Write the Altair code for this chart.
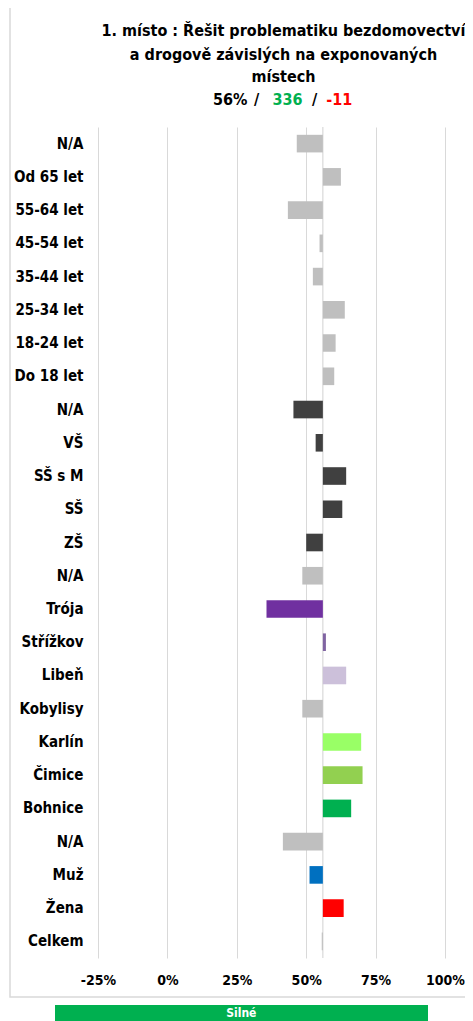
import altair as alt
import pandas as pd

labels = ["N/A", "Od 65 let", "55-64 let", "45-54 let", "35-44 let", "25-34 let",
          "18-24 let", "Do 18 let", "N/A", "VŠ", "SŠ s M", "SŠ", "ZŠ", "N/A",
          "Trója", "Střížkov", "Libeň", "Kobylisy", "Karlín", "Čimice", "Bohnice",
          "N/A", "Muž", "Žena", "Celkem"]
values = [46.6, 62.5, 43.4, 54.8, 52.4, 63.9, 60.6, 60.1, 45.4, 53.4, 64.4, 63.0,
          50.0, 48.6, 35.7, 57.1, 64.4, 48.6, 69.8, 70.3, 66.2, 41.6, 51.2, 63.5, 55.6]
colors = (["#BFBFBF"] * 8 + ["#404040"] * 5 +
          ["#BFBFBF", "#7030A0", "#8064A2", "#CCC0DA", "#BFBFBF", "#99FF66",
           "#92D050", "#00B050", "#BFBFBF", "#0070C0", "#FF0000", "#BFBFBF"])
base = 56
x_ticks = [-25, 0, 25, 50, 75, 100]

title_lines = ["1. místo : Řešit problematiku bezdomovectví",
               "a drogově závislých na exponovaných",
               "místech"]
score_parts = ["56%", "/", "336", "/", "-11"]
score_colors = ["#000000", "#000000", "#00B050", "#000000", "#FF0000"]
footer = "Silné"

ids = [f"{l}|{i}" for i, l in enumerate(labels)]
df = pd.DataFrame({"id": ids, "value": values, "base": [base] * len(values), "color": colors})

FONT = "DejaVu Sans Condensed, DejaVu Sans"
W, H = 347, 831
xscale = alt.Scale(domain=[-25, 100], nice=False, zero=False)
xaxis = alt.Axis(values=x_ticks, labelExpr="datum.value + '%'", grid=True,
                 gridColor="#D9D9D9", gridWidth=1, domain=False, ticks=False,
                 labelFont=FONT, labelFontSize=14, labelFontWeight="bold",
                 labelColor="#000000", labelPadding=15, labelFlush=False,
                 labelOverlap=False, title=None)

bars = alt.Chart(df).mark_bar().encode(
    x=alt.X("value:Q", scale=xscale, title=None, axis=xaxis),
    x2="base:Q",
    y=alt.Y("id:N", sort=ids, title=None,
            scale=alt.Scale(paddingInner=0.47, paddingOuter=0.235),
            axis=alt.Axis(labelExpr="split(datum.value, '|')[0]", domain=False, ticks=False,
                          grid=False, labelFont=FONT, labelFontSize=15,
                          labelFontWeight="bold", labelColor="#000000", labelPadding=15)),
    color=alt.Color("color:N", scale=None),
)

rule = alt.Chart(pd.DataFrame({"base": [base]})).mark_rule(color="#D9D9D9", strokeWidth=1.2).encode(
    x=alt.X("base:Q", scale=xscale, title=None, axis=xaxis)
)

one = alt.Data(values=[{}])
frame = alt.Chart(one).mark_rect(fill="#FFFFFF", fillOpacity=0, stroke="#D9D9D9", strokeWidth=1.5).encode(
    x=alt.value(-88), x2=alt.value(390), y=alt.value(-122), y2=alt.value(870))

layers = [frame, rule, bars]
for i, line in enumerate(title_lines):
    layers.append(alt.Chart(one).mark_text(
        text=line, font=FONT, fontSize=16, fontWeight="bold", color="#000000",
        align="center", baseline="alphabetic").encode(
        x=alt.value(185.5), y=alt.value([-91, -67, -45][i])))

score_x = [132.3, 158.5, 189.5, 216.5, 241.2]
for p, c, sx in zip(score_parts, score_colors, score_x):
    layers.append(alt.Chart(one).mark_text(
        text=p, font=FONT, fontSize=16, fontWeight="bold", color=c,
        align="center", baseline="alphabetic").encode(
        x=alt.value(sx), y=alt.value(-22)))

footer_bar = alt.Chart(one).mark_rect(fill="#00B050").encode(
    x=alt.value(-43), x2=alt.value(330), y=alt.value(878), y2=alt.value(900))
footer_text = alt.Chart(one).mark_text(
    text=footer, font=FONT, fontSize=12, fontWeight="bold", color="#FFFFFF",
    align="center", baseline="alphabetic").encode(x=alt.value(143.3), y=alt.value(889.5))
layers += [footer_bar, footer_text]

chart = alt.layer(*layers).properties(
    width=W, height=H,
    autosize=alt.AutoSizeParams(type="none"),
    padding={"left": 90, "top": 119, "right": 20, "bottom": 63},
    background="#FFFFFF",
).configure_view(stroke=None)

chart.save("out.html", embed_options={"renderer": "svg", "actions": False})
